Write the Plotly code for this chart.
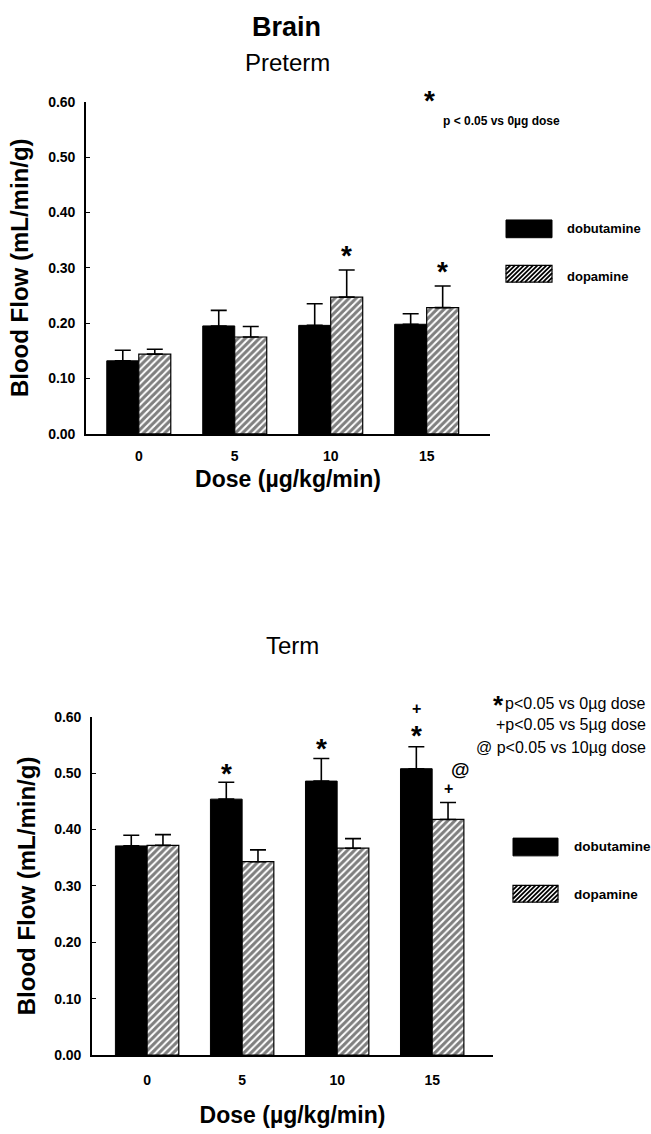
import plotly.graph_objects as go

W, H = 651, 1134

doses = ["0", "5", "10", "15"]

# Preterm
pre_dob = [0.132, 0.195, 0.196, 0.198]
pre_dob_err = [0.019, 0.028, 0.039, 0.019]
pre_dop = [0.144, 0.175, 0.247, 0.228]
pre_dop_err = [0.009, 0.019, 0.049, 0.039]

# Term
term_dob = [0.371, 0.454, 0.486, 0.508]
term_dob_err = [0.019, 0.030, 0.040, 0.039]
term_dop = [0.372, 0.343, 0.367, 0.418]
term_dop_err = [0.019, 0.021, 0.017, 0.030]

yticks = [0.0, 0.1, 0.2, 0.3, 0.4, 0.5, 0.6]
ytick_labels = ["0.00", "0.10", "0.20", "0.30", "0.40", "0.50", "0.60"]

FONT = "Liberation Sans, Arial, sans-serif"

def px(x):
    return x / W

def py(y):
    return 1 - y / H

fig = go.Figure()
xi = list(range(len(doses)))

def add_pair(dob, dob_err, dop, dop_err, xa, ya):
    fig.add_trace(go.Bar(
        x=xi, y=dob, name="dobutamine", xaxis=xa, yaxis=ya,
        marker=dict(color="black", line=dict(color="black", width=1)),
        error_y=dict(type="data", symmetric=False, array=dob_err,
                     arrayminus=[0] * len(dob), color="black",
                     thickness=1.6, width=8),
        showlegend=False, offsetgroup="a"))
    fig.add_trace(go.Bar(
        x=xi, y=dop, name="dopamine", xaxis=xa, yaxis=ya,
        marker=dict(color="white", line=dict(color="black", width=1.2),
                    pattern=dict(shape="/", fgcolor="black", bgcolor="white",
                                 size=5, solidity=0.6)),
        error_y=dict(type="data", symmetric=False, array=dop_err,
                     arrayminus=[0] * len(dop), color="black",
                     thickness=1.6, width=8),
        showlegend=False, offsetgroup="b"))

add_pair(pre_dob, pre_dob_err, pre_dop, pre_dop_err, "x", "y")
add_pair(term_dob, term_dob_err, term_dop, term_dop_err, "x2", "y2")

axis_common = dict(showline=True, linecolor="black", linewidth=1.6,
                   showgrid=False, zeroline=False)
tickfont = dict(size=14, weight="bold")
ytitle_font = dict(size=24, weight="bold")
xtitle_font = dict(size=23, weight="bold")

fig.update_layout(
    width=W, height=H, plot_bgcolor="white", paper_bgcolor="white",
    margin=dict(l=0, r=0, t=0, b=0),
    barmode="group", bargap=0.333, bargroupgap=0,
    font=dict(family=FONT, color="black"),
    xaxis=dict(domain=[px(86), px(490)], range=[-0.55, 3.66],
               tickvals=xi, ticktext=doses, ticks="", anchor="y",
               tickfont=tickfont, ticklabelstandoff=8,
               title=dict(text="Dose (µg/kg/min)", font=xtitle_font, standoff=8),
               **axis_common),
    yaxis=dict(domain=[py(432), py(95)], range=[0, 0.6], anchor="x",
               tickvals=yticks, ticktext=ytick_labels, ticks="inside", ticklen=4,
               tickwidth=1.4, tickcolor="black",
               tickfont=tickfont, ticklabelstandoff=6,
               title=dict(text="Blood Flow (mL/min/g)", font=ytitle_font, standoff=13),
               **axis_common),
    xaxis2=dict(domain=[px(92), px(493)], range=[-0.58, 3.64],
                tickvals=xi, ticktext=doses, ticks="", anchor="y2",
                tickfont=tickfont, ticklabelstandoff=11,
                title=dict(text="Dose (µg/kg/min)", font=xtitle_font, standoff=20),
                **axis_common),
    yaxis2=dict(domain=[py(1062), py(719)], range=[0, 0.6], anchor="x2",
                tickvals=yticks, ticktext=ytick_labels, ticks="inside", ticklen=4,
                tickwidth=1.4, tickcolor="black",
                tickfont=tickfont, ticklabelstandoff=6,
                title=dict(text="Blood Flow (mL/min/g)", font=ytitle_font, standoff=12),
                **axis_common),
)

ann = []
def text(x, y, t, size, weight="normal", xanchor="center", yanchor="middle"):
    ann.append(dict(x=px(x), y=py(y), xref="paper", yref="paper", text=t,
                    showarrow=False, xanchor=xanchor, yanchor=yanchor,
                    font=dict(size=size, weight=weight, family=FONT, color="black")))

# titles
text(286, 19, "Brain", 27, "bold")
text(287, 55, "Preterm", 24)
text(292, 647, "Term", 24)

# significance markers (positioned relative to bar + error tops)
OFF = 0.1667
def mark(xa, ya, xpos, val, err, t, shift, size=28, xshift=0):
    ann.append(dict(x=xpos, y=val + err, xref=xa, yref=ya, text=t, showarrow=False,
                    xanchor="center", yanchor="middle", yshift=shift, xshift=xshift,
                    font=dict(size=size, weight="bold", family=FONT, color="black")))

STAR_SHIFT = 3  # asterisk glyph sits high in its text box
mark("x", "y", 2 + OFF, pre_dop[2], pre_dop_err[2], "*", 17 - STAR_SHIFT)
mark("x", "y", 3 + OFF, pre_dop[3], pre_dop_err[3], "*", 18 - STAR_SHIFT)
mark("x2", "y2", 1 - OFF, term_dob[1], term_dob_err[1], "*", 12 - STAR_SHIFT)
mark("x2", "y2", 2 - OFF, term_dob[2], term_dob_err[2], "*", 13 - STAR_SHIFT)
mark("x2", "y2", 3 - OFF, term_dob[3], term_dob_err[3], "*", 14 - STAR_SHIFT)
mark("x2", "y2", 3 - OFF, term_dob[3], term_dob_err[3], "+", 38, size=16)
mark("x2", "y2", 3 + OFF, term_dop[3], term_dop_err[3], "+", 14, size=16)
mark("x2", "y2", 3 + OFF, term_dop[3], term_dop_err[3], "@", 33, size=19, xshift=12)

# top note
text(430, 100 - 6, "*", 28, "bold")
text(441, 115, "p &lt; 0.05 vs 0µg dose", 12, "bold", xanchor="left")

# bottom notes
text(648, 705, "p&lt;0.05 vs 0µg dose", 16, xanchor="right")
text(498, 707, "*", 26, "bold")
text(648, 727, "+p&lt;0.05 vs 5µg dose", 16, xanchor="right")
text(648, 750, "@ p&lt;0.05 vs 10µg dose", 16, xanchor="right")

# legends
shapes = []
def swatch(x0, y0, x1, y1, hatched):
    if not hatched:
        shapes.append(dict(type="rect", xref="paper", yref="paper",
                           x0=px(x0), x1=px(x1), y0=py(y1), y1=py(y0),
                           fillcolor="black", line=dict(color="black", width=1)))
    else:
        shapes.append(dict(type="rect", xref="paper", yref="paper",
                           x0=px(x0), x1=px(x1), y0=py(y1), y1=py(y0),
                           fillcolor="white", line=dict(color="black", width=1.2)))
        h = y1 - y0
        step = 4.5
        segs = []
        s = x0 - h
        while s < x1:
            ax, ay = s, y1
            bx, by = s + h, y0
            if ax < x0:
                ay = y1 - (x0 - ax)
                ax = x0
            if bx > x1:
                by = y0 + (bx - x1)
                bx = x1
            if ax < bx:
                segs.append(f"M{px(ax):.5f},{py(ay):.5f} L{px(bx):.5f},{py(by):.5f}")
            s += step
        shapes.append(dict(type="path", xref="paper", yref="paper", path=" ".join(segs),
                           line=dict(color="black", width=1.8)))

swatch(506, 215, 552, 233, False)
swatch(506, 261, 552, 278, True)
text(565, 224, "dobutamine", 13, "bold", xanchor="left")
text(565, 272, "dopamine", 13, "bold", xanchor="left")

swatch(513, 842, 558, 860, False)
swatch(513, 890, 558, 907, True)
text(572, 851, "dobutamine", 13.5, "bold", xanchor="left")
text(572, 899, "dopamine", 13.5, "bold", xanchor="left")

fig.update_layout(annotations=ann, shapes=shapes)
fig.write_html("out.html", config={"displayModeBar": False},
               post_script="document.body.style.margin='0';document.body.style.overflow='hidden';")
